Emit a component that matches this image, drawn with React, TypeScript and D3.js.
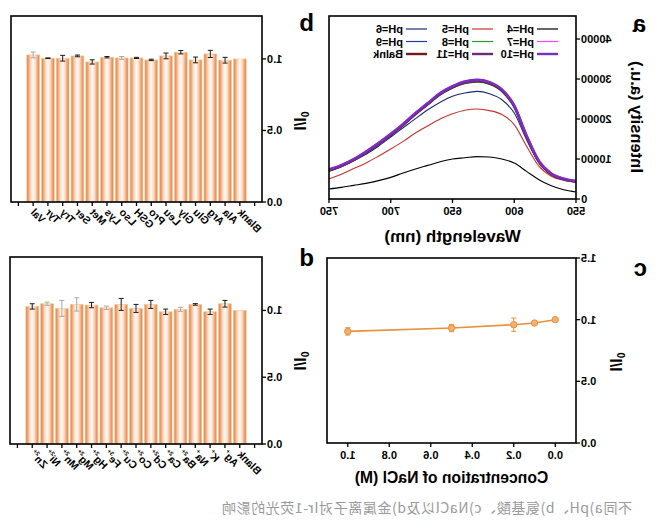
import React from "react";
import * as d3 from "d3";

const W = 666;
const H = 524;
const FONT = "'Liberation Sans', Arial, sans-serif";

// ---------- Panel a: pH spectra ----------
const wavelengths = [550, 560, 570, 580, 590, 600, 610, 620, 630, 640, 650, 660, 670, 680, 690, 700, 710, 720, 730, 740, 750];
const pH4 = [1750, 2300, 3300, 4800, 6900, 9000, 10000, 10500, 10600, 10300, 10000, 9300, 8400, 7500, 6500, 5400, 4600, 3900, 3400, 2900, 2500];
const pH5 = [4200, 4700, 5700, 8200, 13200, 18600, 21100, 22100, 22500, 22200, 21300, 20000, 18300, 16500, 14400, 12500, 10700, 9000, 7600, 6200, 5000];
const pH6 = [4400, 4800, 6100, 9000, 14800, 21500, 24800, 26300, 26900, 26500, 25700, 24200, 22300, 20100, 17800, 15500, 13200, 11200, 9600, 8200, 7000];
const pH7 = [4600, 5200, 6500, 9700, 16000, 23600, 27500, 29300, 29900, 29500, 28300, 26600, 24100, 21600, 18900, 16400, 14100, 12000, 10100, 8600, 7500];
const pH8 = [4300, 4900, 6200, 9200, 15400, 22800, 26800, 28600, 29200, 28800, 27700, 26000, 23600, 21100, 18400, 15900, 13600, 11500, 9600, 8100, 7000];
const pH9 = [4400, 4900, 6200, 9300, 15500, 23000, 27000, 28800, 29400, 29000, 27800, 26100, 23600, 21100, 18400, 15900, 13600, 11500, 9600, 8100, 7000];
const pH10 = [4500, 5100, 6400, 9500, 15900, 23400, 27400, 29200, 29800, 29400, 28200, 26500, 24000, 21500, 18800, 16300, 14000, 11900, 10000, 8500, 7400];
const pH11 = [4400, 5000, 6300, 9400, 15700, 23200, 27200, 29000, 29600, 29200, 28000, 26300, 23800, 21300, 18600, 16100, 13800, 11700, 9800, 8300, 7200];
const blankSpec = [4300, 4900, 6200, 9300, 15600, 23100, 27100, 28900, 29500, 29100, 27900, 26200, 23700, 21200, 18500, 16000, 13700, 11600, 9700, 8200, 7100];
const specNames = ["pH=4", "pH=5", "pH=6", "pH=7", "pH=8", "pH=9", "pH=10", "pH=11", "Balnk"];
const specData = [pH4, pH5, pH6, pH7, pH8, pH9, pH10, pH11, blankSpec];
const specColors = ["#000000", "#c8322d", "#1b2a78", "#ff44ff", "#2e9a2e", "#1f3da0", "#7a2fc0", "#6a2a7e", "#6e1c1c"];
const specWidths = [1.1, 1.1, 1.1, 1.3, 1.1, 1.1, 2.4, 2.4, 2.4];
const drawOrder = [0, 1, 2, 4, 5, 8, 7, 3, 6];
const specYTicks = [0, 10000, 20000, 30000, 40000];
const specXTicks = [550, 600, 650, 700, 750];

// ---------- Panel b: amino acids ----------
const aminoNames = ["Blank", "Ala", "Arg", "Glu", "Gly", "Leu", "Pro", "GSH", "Lso", "Lys", "Met", "Ser", "Try", "Tyr", "Val"];
const aminoValues = [1.0, 0.991, 1.035, 0.993, 1.047, 1.021, 0.993, 1.007, 1.007, 1.012, 0.979, 1.021, 1.005, 1.005, 1.028];
const aminoErrors = [0, 0.02, 0.025, 0.02, 0.012, 0.02, 0.005, 0.004, 0.01, 0.005, 0.015, 0.006, 0.02, 0.002, 0.02];
const aminoGrayErr = ["Lso", "Val"];

// ---------- Panel c: NaCl ----------
const naclConc = [0, 0.1, 0.2, 0.5, 1.0];
const naclRatio = [1.0, 0.973, 0.959, 0.932, 0.905];
const naclErr = [0.008, 0.02, 0.054, 0.03, 0.03];
const naclXTicks = [0, 0.2, 0.4, 0.6, 0.8, 1.0];
const naclYTicks = [0, 0.5, 1.0, 1.5];

// ---------- Panel d: metal ions ----------
const metalNames = ["Blank", "Ag", "K", "Na", "Ba", "Ca", "Cd", "Co", "Cu", "Fe", "Hg", "Mg", "Mn", "Ni", "Zn"];
const metalCharges = ["", "+", "+", "+", "2+", "2+", "2+", "2+", "2+", "3+", "2+", "2+", "2+", "2+", "2+"];
const metalValues = [1.0, 1.05, 0.99, 1.045, 1.008, 0.99, 1.045, 1.015, 1.045, 1.02, 1.04, 1.045, 1.015, 1.05, 1.03];
const metalErrors = [0, 0.025, 0.02, 0.006, 0.015, 0.02, 0.03, 0.03, 0.045, 0.012, 0.02, 0.05, 0.06, 0.012, 0.02];
const metalGrayErr = ["Ni", "Mn", "Mg", "Fe", "Ba"];

const ratioTicks = [0, 0.5, 1.0];

const caption = "不同a)pH、b)氨基酸、c)NaCl以及d)金属离子对Ir-1荧光的影响";

type Frame = { x0: number; x1: number; y0: number; y1: number };

function YTitle({ x, y }: { x: number; y: number }) {
  return (
    <text transform={`translate(${x},${y}) rotate(-90)`} textAnchor="middle" fontFamily={FONT} fontWeight="bold" fontSize={16}>
      I/I
      <tspan fontSize={10.5} dy={-7}>0</tspan>
    </text>
  );
}

function BarPanel({ f, names, values, errors, yMax, gray, charges }: {
  f: Frame; names: string[]; values: number[]; errors: number[]; yMax: number; gray: string[]; charges?: string[];
}) {
  const step = (f.x1 - f.x0) / (names.length + 2);
  const x = d3.scaleBand<string>().domain(names).range([f.x0 + step, f.x1 - step]).paddingInner(0.14).paddingOuter(0.07);
  const y = d3.scaleLinear().domain([0, yMax]).range([f.y1, f.y0]);
  const tickXs = [f.x0 + step / 2, ...names.map((n) => (x(n) as number) + x.bandwidth() / 2), f.x1 - step / 2];
  return (
    <g>
      {names.map((n, i) => (
        <rect key={n} x={x(n)} y={y(values[i])} width={x.bandwidth()} height={f.y1 - y(values[i])}
          fill="url(#barGrad)" stroke="#f3c98a" strokeWidth={0.6} />
      ))}
      {names.map((n, i) =>
        errors[i] > 0 ? (
          <g key={"e" + n} stroke={gray.includes(n) ? "#a8a8a8" : "#1a1a1a"} strokeWidth={1}>
            {(() => {
              const cx = (x(n) as number) + x.bandwidth() / 2;
              const ya = y(values[i] + errors[i]);
              const yb = y(values[i] - errors[i]);
              return (
                <>
                  <line x1={cx} x2={cx} y1={ya} y2={yb} />
                  <line x1={cx - 2.5} x2={cx + 2.5} y1={ya} y2={ya} />
                  <line x1={cx - 2.5} x2={cx + 2.5} y1={yb} y2={yb} />
                </>
              );
            })()}
          </g>
        ) : null
      )}
      <rect x={f.x0} y={f.y0} width={f.x1 - f.x0} height={f.y1 - f.y0} fill="none" stroke="#000" strokeWidth={1.6} />
      {tickXs.map((tx, i) => (
        <line key={"t" + i} x1={tx} x2={tx} y1={f.y1} y2={f.y1 + 4} stroke="#000" strokeWidth={1.3} />
      ))}
      {ratioTicks.map((t) => (
        <g key={"y" + t}>
          <line x1={f.x0 - 4} x2={f.x0} y1={y(t)} y2={y(t)} stroke="#000" strokeWidth={1.3} />
          <text x={f.x0 - 5} y={y(t) + 4} textAnchor="end" fontFamily={FONT} fontWeight="bold" fontSize={11}>{t.toFixed(1)}</text>
        </g>
      ))}
      {names.map((n, i) => {
        const cx = (x(n) as number) + x.bandwidth() / 2;
        return (
          <text key={"l" + n} transform={`translate(${cx + 3},${f.y1 + 11}) rotate(-45)`} textAnchor="end"
            fontFamily={FONT} fontWeight="bold" fontSize={10.5}>
            {n}
            {charges && charges[i] ? <tspan fontSize={6} dy={-5}>{charges[i]}</tspan> : null}
          </text>
        );
      })}
    </g>
  );
}

function SpectraPanel() {
  const f: Frame = { x0: 90, x1: 337, y0: 16, y1: 199 };
  const x = d3.scaleLinear().domain([550, 750]).range([f.x0, f.x1]);
  const y = d3.scaleLinear().domain([0, 45750]).range([f.y1, f.y0]);
  const line = d3.line<number>().x((_, i) => x(wavelengths[i])).y((d) => y(d)).curve(d3.curveMonotoneX);
  const legendCols = [108, 173, 239];
  const legendRows = [29, 41.5, 54];
  return (
    <g>
      {drawOrder.map((k) => (
        <path key={specNames[k]} d={line(specData[k]) as string} fill="none" stroke={specColors[k]} strokeWidth={specWidths[k]} />
      ))}
      <rect x={f.x0} y={f.y0} width={f.x1 - f.x0} height={f.y1 - f.y0} fill="none" stroke="#000" strokeWidth={1.6} />
      {specYTicks.map((t) => (
        <g key={"y" + t}>
          <line x1={f.x0 - 4} x2={f.x0} y1={y(t)} y2={y(t)} stroke="#000" strokeWidth={1.3} />
          <text x={f.x0 - 5} y={y(t) + 4} textAnchor="end" fontFamily={FONT} fontWeight="bold" fontSize={11}>{t}</text>
        </g>
      ))}
      {specXTicks.map((t) => (
        <g key={"x" + t}>
          <line x1={x(t)} x2={x(t)} y1={f.y1} y2={f.y1 + 4} stroke="#000" strokeWidth={1.3} />
          <text x={x(t)} y={f.y1 + 16} textAnchor="middle" fontFamily={FONT} fontWeight="bold" fontSize={11}>{t}</text>
        </g>
      ))}
      {specNames.map((n, k) => {
        const cx = legendCols[k % 3];
        const cy = legendRows[Math.floor(k / 3)];
        return (
          <g key={"lg" + n}>
            <line x1={cx} x2={cx + 21} y1={cy} y2={cy} stroke={specColors[k]} strokeWidth={specWidths[k] > 2 ? 2.4 : 1.2} />
            <text x={cx + 24} y={cy + 4} fontFamily={FONT} fontWeight="bold" fontSize={11}>{n}</text>
          </g>
        );
      })}
      <text x={(f.x0 + f.x1) / 2} y={242} textAnchor="middle" fontFamily={FONT} fontWeight="bold" fontSize={17}>Wavelength (nm)</text>
      <text transform={`translate(${35},${117}) rotate(-90)`} textAnchor="middle" fontFamily={FONT} fontWeight="bold" fontSize={16.5}>Intensity (a.u.)</text>
    </g>
  );
}

function NaclPanel() {
  const f: Frame = { x0: 90, x1: 339, y0: 258, y1: 443 };
  const x = d3.scaleLinear().domain([-0.1, 1.1]).range([f.x0, f.x1]);
  const y = d3.scaleLinear().domain([0, 1.5]).range([f.y1, f.y0]);
  const line = d3.line<number>().x((d) => x(d)).y((_, i) => y(naclRatio[i]));
  const col = "#e8913e";
  return (
    <g>
      <path d={line(naclConc) as string} fill="none" stroke={col} strokeWidth={1.6} />
      {naclConc.map((c, i) => (
        <g key={"e" + c} stroke={col} strokeWidth={1}>
          <line x1={x(c)} x2={x(c)} y1={y(naclRatio[i] + naclErr[i])} y2={y(naclRatio[i] - naclErr[i])} />
          <line x1={x(c) - 2.5} x2={x(c) + 2.5} y1={y(naclRatio[i] + naclErr[i])} y2={y(naclRatio[i] + naclErr[i])} />
          <line x1={x(c) - 2.5} x2={x(c) + 2.5} y1={y(naclRatio[i] - naclErr[i])} y2={y(naclRatio[i] - naclErr[i])} />
        </g>
      ))}
      {naclConc.map((c, i) => (
        <circle key={"p" + c} cx={x(c)} cy={y(naclRatio[i])} r={3.2} fill="#f3b06c" stroke={col} strokeWidth={1} />
      ))}
      <rect x={f.x0} y={f.y0} width={f.x1 - f.x0} height={f.y1 - f.y0} fill="none" stroke="#000" strokeWidth={1.6} />
      {naclYTicks.map((t) => (
        <g key={"y" + t}>
          <line x1={f.x0 - 4} x2={f.x0} y1={y(t)} y2={y(t)} stroke="#000" strokeWidth={1.3} />
          <text x={f.x0 - 5} y={y(t) + 4} textAnchor="end" fontFamily={FONT} fontWeight="bold" fontSize={11}>{t.toFixed(1)}</text>
        </g>
      ))}
      {naclXTicks.map((t) => (
        <g key={"x" + t}>
          <line x1={x(t)} x2={x(t)} y1={f.y1} y2={f.y1 + 4} stroke="#000" strokeWidth={1.3} />
          <text x={x(t)} y={f.y1 + 16} textAnchor="middle" fontFamily={FONT} fontWeight="bold" fontSize={11}>{t.toFixed(1)}</text>
        </g>
      ))}
      <text x={(f.x0 + f.x1) / 2} y={483} textAnchor="middle" fontFamily={FONT} fontWeight="bold" fontSize={15.7}>Concentration of NaCl (M)</text>
      <YTitle x={56} y={362} />
    </g>
  );
}

export default function App() {
  return (
    <svg width={W} height={H} viewBox={`0 0 ${W} ${H}`} style={{ position: "absolute", left: 0, top: 0, background: "#fff" }}>
      <defs>
        <linearGradient id="barGrad" x1="0" x2="1" y1="0" y2="0">
          <stop offset="0%" stopColor="#e47f45" />
          <stop offset="12%" stopColor="#ee9c6a" />
          <stop offset="32%" stopColor="#fbdcc6" />
          <stop offset="50%" stopColor="#fffbf8" />
          <stop offset="68%" stopColor="#fbdcc6" />
          <stop offset="88%" stopColor="#ee9c6a" />
          <stop offset="100%" stopColor="#e47f45" />
        </linearGradient>
      </defs>
      <rect x={0} y={0} width={W} height={H} fill="#fff" />
      <g transform={`translate(${W},0) scale(-1,1)`}>
        <SpectraPanel />
        <BarPanel f={{ x0: 404, x1: 655, y0: 16, y1: 202 }} names={aminoNames} values={aminoValues} errors={aminoErrors} yMax={1.3} gray={aminoGrayErr} />
        <YTitle x={372} y={121} />
        <NaclPanel />
        <BarPanel f={{ x0: 404, x1: 656, y0: 257, y1: 444 }} names={metalNames} values={metalValues} errors={metalErrors} yMax={1.4} gray={metalGrayErr} charges={metalCharges} />
        <YTitle x={372} y={361} />
        <text x={20} y={32} fontFamily={FONT} fontWeight="bold" fontSize={24}>a</text>
        <text x={352} y={31} fontFamily={FONT} fontWeight="bold" fontSize={24}>b</text>
        <text x={19} y={276} fontFamily={FONT} fontWeight="bold" fontSize={24}>c</text>
        <text x={352} y={266} fontFamily={FONT} fontWeight="bold" fontSize={24}>d</text>
        <text x={34} y={513} fontFamily="'Noto Sans CJK SC', sans-serif" fontSize={14} fill="#9a9a9a"
          textLength={410} lengthAdjust="spacing">{caption}</text>
      </g>
    </svg>
  );
}
